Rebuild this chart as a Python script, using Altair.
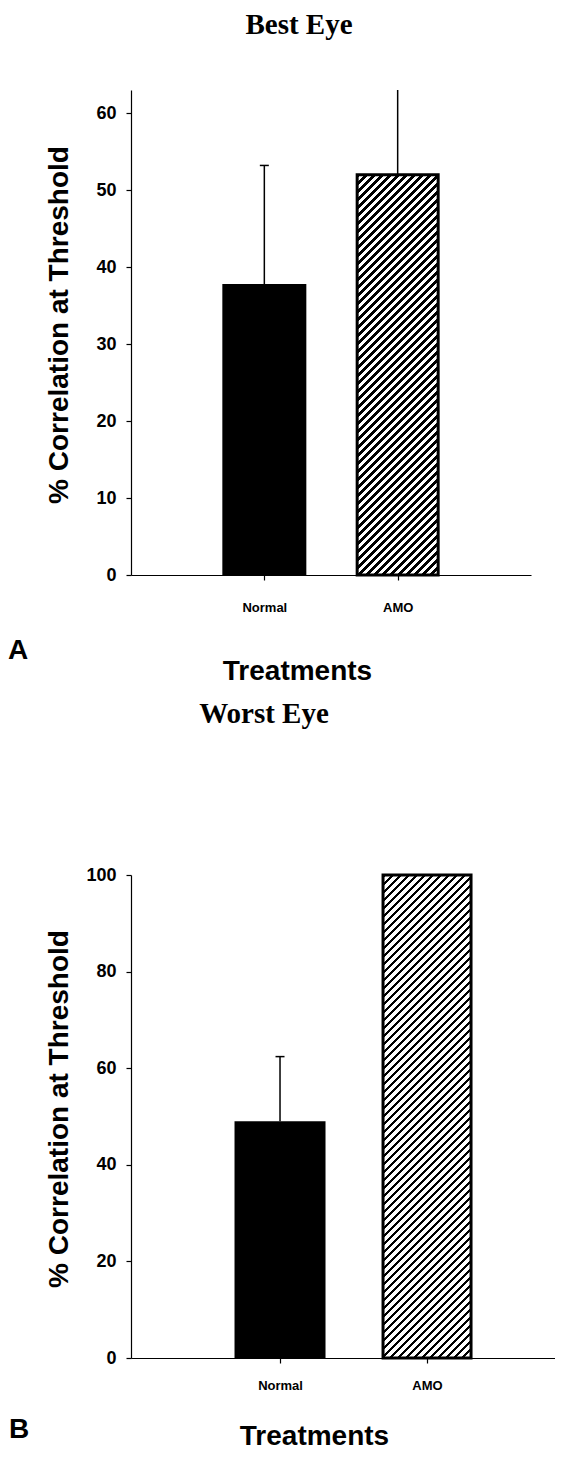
import math
import altair as alt
import pandas as pd

# ---- data ----
categories = ["Normal", "AMO"]
best_means = [37.8, 52.0]
best_errors = [15.4, 14.0]      # AMO error bar runs off the top of the axis
worst_means = [49.0, 100.0]
worst_errors = [13.4, 0.0]

best_ticks = [0, 10, 20, 30, 40, 50, 60]
worst_ticks = [0, 20, 40, 60, 80, 100]
best_ymax = 63
worst_ymax = 100

panel_titles = ["Best Eye", "Worst Eye"]
panel_labels = ["A", "B"]
y_title = "% Correlation at Threshold"
x_title = "Treatments"

SANS = "Liberation Sans"
SERIF = "Liberation Serif"


def hatch_gradient(w, h, period=8.0, frac=0.45):
    """Diagonal '/' hatch emulated with a hard-stop linear gradient (bbox units)."""
    k = (w + h) / (w * w + h * h)
    total = w + h
    n = int(math.ceil(total / period))
    stops = []
    for i in range(n):
        a = i * period / total
        b = min((i + frac) * period / total, 1.0)
        c = min((i + 1) * period / total, 1.0)
        if a >= 1.0:
            break
        stops += [
            {"offset": a, "color": "#000000"},
            {"offset": b, "color": "#000000"},
            {"offset": b, "color": "#ffffff"},
            {"offset": c, "color": "#ffffff"},
        ]
    return {"gradient": "linear", "x1": 0, "y1": 0, "x2": k * w, "y2": k * h, "stops": stops}


def panel(means, errors, ticks, ymax, width, height, bar_w, title, title_dx, title_offset,
          label, label_x, label_y, xt_x, xt_y, pad, align, lab_pad):
    df = pd.DataFrame({
        "cat": categories,
        "mean": means,
        "err": errors,
        "top": [m + e for m, e in zip(means, errors)],
    })
    xaxis = alt.Axis(
        title=x_title, labelAngle=0, labelFont=SANS, labelFontWeight="bold",
        labelFontSize=13, labelPadding=lab_pad, tickSize=5, ticks=True,
        titleFont=SANS, titleFontSize=28, titleFontWeight="bold",
        titleX=xt_x, titleY=xt_y, titleBaseline="alphabetic", titleAlign="center",
        domainWidth=1.2, tickWidth=1.2,
    )
    yaxis = alt.Axis(
        title=y_title, values=ticks, grid=False, tickSize=5, labelPadding=10,
        labelFont=SANS, labelFontWeight="bold", labelFontSize=18,
        titleFont=SANS, titleFontSize=28, titleFontWeight="bold",
        titleX=-72, titleY=height / 2 - 8, titleAngle=-90, titleBaseline="middle",
        titleAlign="center", domainWidth=1.2, tickWidth=1.2,
    )
    x = alt.X("cat:N", sort=categories,
              scale=alt.Scale(type="point", padding=pad, align=align), axis=xaxis)
    yscale = alt.Scale(domain=[0, ymax], nice=False, zero=True)

    base = alt.Chart(df)
    amo_h = means[1] / ymax * height
    normal = base.transform_filter("datum.cat == 'Normal'").mark_bar(
        width=bar_w, color="black").encode(
        x=x, y=alt.Y("mean:Q", scale=yscale, axis=yaxis))
    amo = base.transform_filter("datum.cat == 'AMO'").mark_bar(
        width=bar_w - 3, fill=hatch_gradient(bar_w - 3, amo_h), stroke="black",
        strokeWidth=3).encode(
        x=x, y=alt.Y("mean:Q", scale=yscale, axis=yaxis))
    rule = base.transform_filter("datum.err > 0").mark_rule(
        color="black", strokeWidth=1.5, clip=True).encode(
        x=x, y=alt.Y("mean:Q", scale=yscale, axis=yaxis), y2="top:Q")
    cap = base.transform_filter("datum.err > 0").mark_tick(
        color="black", thickness=1.5, size=9, clip=True, opacity=1).encode(
        x=x, y=alt.Y("top:Q", scale=yscale, axis=yaxis))
    lab = alt.Chart(pd.DataFrame({"label": [label]})).mark_text(
        font=SANS, fontSize=28, fontWeight="bold", align="left",
        baseline="alphabetic", color="black").encode(
        x=alt.value(label_x), y=alt.value(label_y), text="label:N")

    return alt.layer(normal, amo, rule, cap, lab).properties(
        width=width, height=height,
        title=alt.TitleParams(title, font=SERIF, fontSize=29, fontWeight="bold",
                              color="black", anchor="middle", dx=title_dx,
                              offset=title_offset, baseline="alphabetic"),
    )


A = panel(best_means, best_errors, best_ticks, best_ymax, 400, 485, 84,
          panel_titles[0], -32, 27, panel_labels[0], -123, 569, 166, 104, 1.0, 0.5, 21)
B = panel(worst_means, worst_errors, worst_ticks, worst_ymax, 424, 483, 91,
          panel_titles[1], -79, 114, panel_labels[1], -122, 563, 183, 86, 0.942, 0.538, 16)

chart = alt.vconcat(A, B, spacing=15).properties(
    padding={"top": 3, "left": 0, "right": 0, "bottom": 0}
).configure_view(
    strokeWidth=0
).configure_axis(
    labelColor="black", titleColor="black", domainColor="black", tickColor="black"
)

chart.save("out.html", embed_options={"renderer": "svg", "actions": False})
